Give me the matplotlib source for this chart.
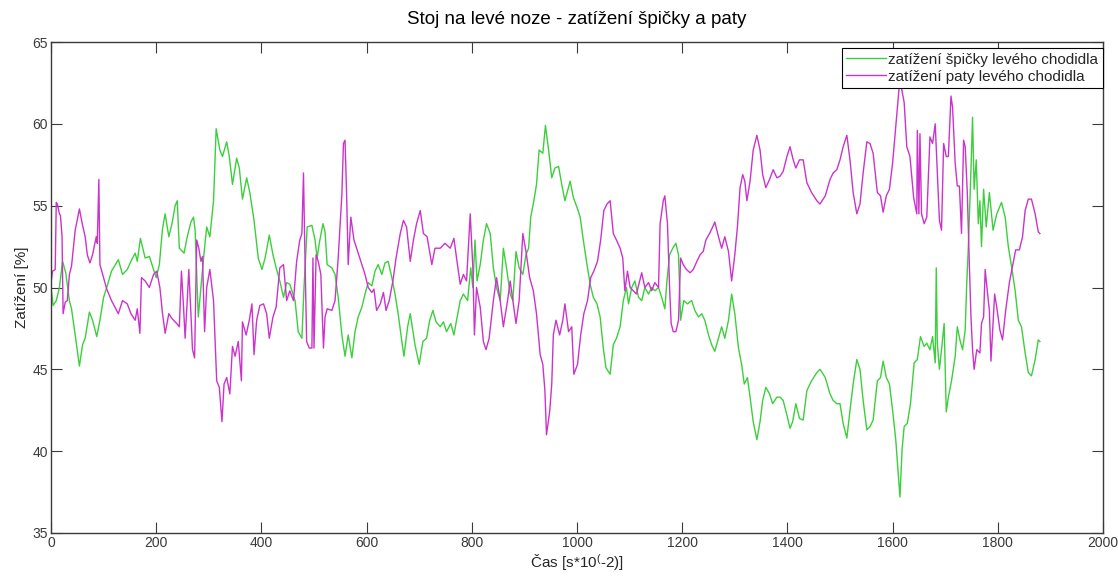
import matplotlib
matplotlib.use("Agg")
import matplotlib.pyplot as plt

plt.rcParams['font.family'] = ['Liberation Sans', 'DejaVu Sans']
plt.rcParams['mathtext.fontset'] = 'custom'
plt.rcParams['mathtext.rm'] = 'Liberation Sans'
plt.rcParams['mathtext.it'] = 'Liberation Sans:italic'

title = "Stoj na levé noze - zatížení špičky a paty"
xlabel = r"Čas [s*10$^{\mathrm{(}}$-2)]"
ylabel = "Zatížení [%]"
toe_label = "zatížení špičky levého chodidla"
heel_label = "zatížení paty levého chodidla"
x_ticks = [0, 200, 400, 600, 800, 1000, 1200, 1400, 1600, 1800, 2000]
y_ticks = [35, 40, 45, 50, 55, 60, 65]

toe_t = [0, 4, 10, 16, 22, 28, 35, 39, 46, 54, 60, 65, 73, 79, 87, 93, 100, 106, 115, 128,
         136, 145, 152, 160, 164, 170, 179, 187, 193, 200, 206, 212, 217, 224, 230, 236, 240, 244,
         253, 259, 266, 271, 274, 280, 286, 290, 296, 302, 309, 314, 321, 326, 334, 339,
         345, 353, 358, 364, 372, 378, 386, 394, 401, 407, 415, 422, 428, 435, 442, 448, 454, 464,
         470, 477, 481, 487, 496, 502, 506, 510, 517, 521, 525, 534, 540, 546, 553, 559, 565, 572,
         578, 584, 591, 597, 603, 610, 616, 622, 629, 635, 641, 648, 654, 660, 667, 671, 678, 683,
         692, 700,
         707, 714, 720, 726, 732, 740, 746, 752, 760, 766, 771, 778, 784, 792, 798, 802, 806, 810,
         816, 822, 828, 835, 841, 847, 854, 860, 866, 873, 878, 884, 890, 897, 903, 908, 912, 918,
         923, 928, 935, 940, 946, 952, 958, 965, 971, 977, 987, 993, 1000, 1006, 1012, 1018, 1025,
         1031, 1038, 1044, 1050, 1055,
         1063, 1069, 1075, 1082, 1088, 1094, 1098, 1104, 1110, 1117, 1123, 1129, 1136, 1142, 1148,
         1155, 1161, 1167, 1171, 1176, 1182, 1188, 1193, 1197, 1203, 1210, 1218, 1224, 1231, 1237,
         1243, 1250, 1256, 1262, 1269, 1275, 1281, 1288, 1294, 1300, 1307, 1313, 1318, 1324, 1329,
         1335, 1342, 1348, 1353, 1359, 1366, 1372, 1380, 1386, 1392, 1399, 1405, 1410, 1416, 1423,
         1430, 1437, 1446, 1456, 1462, 1472, 1481, 1487, 1494, 1500, 1506, 1513, 1519, 1525, 1532,
         1538, 1544, 1551, 1557, 1563, 1571, 1577, 1582, 1588, 1594, 1600, 1606, 1614, 1618, 1622,
         1628, 1634, 1641, 1647, 1653, 1660, 1665, 1671, 1676, 1681, 1683, 1685, 1689, 1693, 1698,
         1702, 1706, 1712, 1719, 1723, 1728, 1733, 1738, 1741, 1744, 1749, 1752, 1755, 1759, 1763,
         1766, 1769, 1773, 1778, 1784,
         1791, 1798, 1807, 1814, 1820, 1826, 1833, 1839, 1845, 1852, 1858, 1864, 1871, 1877, 1880]
toe_v = [50, 48.9, 49.2, 50, 51.6, 50.9, 49.2, 48.7, 47.1, 45.2, 46.5, 46.9, 48.5, 48, 47, 48, 49.4, 50, 51, 51.7,
         50.8, 51.1, 51.6, 52.1, 51.6, 53, 51.8, 51.9, 51.3, 50.6, 51.4, 53.6, 54.5, 53.1, 53.9, 55, 55.3, 52.4,
         52.1, 53.1, 54, 54.3, 53.5, 48.2, 50.4, 51.8, 53.7, 53.1, 55.3, 59.7, 58.4, 58, 58.9, 58,
         56.3, 57.9, 57.3, 55.4, 56.7, 55.8, 54.1, 51.8, 51.1, 51.8, 53.2, 52, 51.2, 50.4, 49.4, 50.3, 50.2, 49.2,
         47.3, 46.9, 50, 53.7, 53.8, 52.9, 51.8, 52.7, 53.9, 53.4, 51.4, 51.2, 50.8, 49.4, 47.1, 45.8, 47.1, 45.7,
         47.3, 48.2, 48.8, 49.6, 50.3, 50.1, 51, 51.4, 50.8, 51.5, 51.6, 50.6, 49.6, 48.4, 46.7, 45.8, 47.6, 48.4,
         46.5, 45.3,
         46.7, 46.9, 48, 48.6, 47.9, 47.6, 47.9, 47.3, 47.8, 47.1, 48, 49.2, 49.6, 49.2, 51.2, 50, 52.9, 50.4,
         51.4, 52.9, 53.9, 53.3, 51.2, 50, 49.2, 52.4, 51.2, 49.6, 49.2, 52.2, 51.2, 50.8, 52, 52.4, 54.3, 55.3,
         56.3, 58.4, 58.2, 59.9, 58.4, 56.7, 57.3, 57.4, 56.3, 55.3, 56.5, 55.5, 54.9, 54.3, 52.9, 51.6, 50.2,
         49.4, 49, 48.2, 46.3, 45.1,
         44.7, 46.5, 46.9, 47.6, 49.2, 50, 49, 50, 50.4, 49.4, 49.2, 50, 49.6, 50, 49.8,
         50, 49.4, 48.7, 50.4, 52, 52.4, 52.7, 52, 48, 49.2, 49, 49.2, 48.6, 48.2, 48.4,
         48, 47.1, 46.5, 46.1, 46.9, 47.6, 46.9, 48, 49.6, 48.4, 46.3, 45.3, 44.1, 44.5, 43.3,
         41.8, 40.7, 41.8, 43.1, 43.9, 43.5, 42.9, 43.3, 43.3, 43.1, 42.2, 41.4, 41.8, 42.9, 42,
         41.9, 43.7, 44.3, 44.8, 45, 44.5, 43.5, 43.1, 42.9, 42.9, 41.7, 40.8, 42.5, 44.1, 45.6,
         45, 43.1, 41.3, 41.5, 41.9, 44.3, 44.5, 45.5, 44.5, 44.1, 42.5, 40.7, 37.2, 40.1, 41.5,
         41.7, 42.9, 45.4, 45.6, 47, 46.4, 46.6, 46.2, 47, 45.4, 51.2, 46.6, 45, 46.2, 47.8,
         42.4, 43.3, 44.3, 45.8, 47.6, 46.8, 46.2, 47.4, 50.3, 52.5, 57.2, 60.4, 56, 57.8, 53.9,
         55.3, 52.5, 56, 53.7, 55.8,
         53.5, 54.5, 55.2, 54.3, 52.5, 51.3, 49.8, 48, 47.6, 46, 44.8, 44.6, 45.6, 46.8, 46.7]

heel_t = [0, 3, 8, 10, 12, 16, 18, 21, 23, 27, 31, 35, 39, 46, 54, 60, 65, 69, 74, 79, 86, 88, 91, 93,
          100, 106, 115, 128, 136, 145, 152, 160, 164, 169, 172, 179, 187, 195, 201, 207, 212, 217,
          224, 230, 239, 244, 248, 252, 255, 259, 262, 266, 269, 273, 277, 281, 285, 288, 292, 296,
          302, 309, 315, 320, 325, 329, 334,
          340, 345, 350, 356, 362, 364, 371, 377, 382, 386, 391, 397, 404, 410, 415, 422, 428, 435,
          442, 448, 454, 461, 467, 473, 477, 480, 482, 486, 491, 496, 498, 500, 504, 508, 513, 518,
          521, 525, 534, 540, 546, 553, 556, 559, 562, 565, 570, 576, 584, 591, 597, 603, 610, 614,
          619, 626, 632, 637, 643, 650, 656, 664, 670, 676, 683, 689, 695,
          702, 708, 715, 724, 730, 740, 749, 759, 766, 771, 778, 784, 790, 797, 802, 805, 809, 816,
          822, 827, 833, 841, 847, 854, 860, 868, 873, 878, 884, 890, 897, 903, 910, 917, 923, 930,
          935, 939, 942, 948, 952, 955, 960, 967, 973, 977, 984, 990, 994, 1001, 1007, 1013, 1020,
          1026, 1032, 1039, 1045, 1051, 1057,
          1063, 1069, 1075, 1082, 1087, 1091, 1096, 1101, 1107, 1113, 1123, 1129, 1136, 1142, 1148,
          1155, 1158, 1164, 1167, 1172, 1176, 1179, 1183, 1188, 1193, 1197, 1202, 1208, 1215, 1221,
          1228, 1234, 1240, 1245, 1252, 1258, 1262, 1269, 1275, 1281, 1288, 1294, 1300, 1305, 1310,
          1315, 1319, 1323, 1329, 1335, 1342, 1348, 1353, 1359, 1366, 1373, 1380, 1386, 1392, 1399,
          1405, 1411, 1416, 1423,
          1430, 1437, 1446, 1456, 1462, 1472, 1481, 1487, 1494, 1500, 1506, 1513, 1519, 1525, 1532,
          1538, 1544, 1551, 1557, 1563, 1571, 1577, 1582, 1588, 1594, 1600, 1606, 1614, 1618, 1622,
          1627, 1633, 1640, 1646, 1647, 1650, 1652, 1655, 1660, 1665, 1671, 1676, 1681, 1684, 1689,
          1693, 1697, 1702, 1706, 1711, 1714, 1719, 1723, 1727, 1731, 1735, 1738, 1742, 1746, 1749,
          1752, 1755, 1760, 1766, 1769, 1773, 1776, 1780, 1784, 1787,
          1794, 1798, 1804, 1809, 1815, 1822, 1828, 1834, 1841, 1847, 1852, 1858, 1864, 1871, 1877, 1880]
heel_v = [50.3, 51, 51.1, 55.2, 55.1, 54.5, 54.4, 53.1, 48.4, 49.1, 49.2, 50.8, 51.3, 53.5, 54.8, 53.8, 53.1, 52, 51.5, 52, 53.1, 52.7, 56.6, 51.4,
          50.6, 49.9, 49.2, 48.4, 49.2, 49, 48.4, 48, 48.7, 47.2, 50.6, 50.4, 50, 50.8, 51, 50, 48.4, 47.2,
          48.4, 48.1, 47.8, 47.6, 51, 48.8, 46.9, 49.2, 51.1, 48.4, 46.2, 45.7, 52.9, 52.4, 51.6, 51.9, 47.3, 50,
          51.1, 49.2, 44.3, 43.9, 41.8, 44.1, 44.5,
          43.5, 46.4, 45.8, 46.7, 44.3, 47.9, 47.1, 48, 49, 45.9, 48, 48.9, 49, 48.4, 46.9, 48.2, 48.8, 51.2,
          51.4, 49.2, 49.8, 49.2, 51.6, 52.9, 53.3, 57, 53.3, 46.7, 46.3, 46.3, 51.8, 46.3, 52, 51.6, 50.8, 46.3,
          48.2, 48.7, 48.6, 49.2, 51.8, 55.7, 58.8, 59, 55.7, 51.4, 54.3, 52.9, 52.1, 51.4, 50.8, 50, 49.7, 49.9,
          48.6, 49, 49.7, 48.6, 49.2, 50.4, 51.8, 53.3, 54.1, 53.7, 51.6, 52.9, 53.9,
          54.7, 53.3, 53.1, 51.4, 52.4, 52.4, 52.7, 52.4, 53, 51.8, 50.2, 50.8, 50.4, 54.5, 51.2, 47.1, 50, 48.8,
          46.7, 46.2, 46.9, 49.2, 50.6, 49.2, 47.6, 49.2, 50.4, 49.2, 47.8, 49.2, 53.3, 52.2, 50.6, 49.8, 48.4, 45.9,
          45.3, 43.7, 41, 42.4, 44.1, 47.1, 48, 47.1, 48, 49, 47.3, 47.6, 44.7, 45.3, 47.1, 48.4, 49.2,
          50.6, 51, 51.6, 52.9, 54.7, 55.1,
          55.3, 53.3, 52.9, 52.4, 51.8, 49.8, 51, 50, 49.8, 49.6, 50.9, 50, 50.3, 49.8, 50.3,
          50, 53.9, 55.3, 55.6, 53.9, 50, 47.8, 47.3, 47.3, 48, 51.8, 51.4, 51.1, 50.9, 51.1,
          51.6, 52, 52.2, 52.9, 53.3, 53.7, 54, 53.1, 52.4, 53.1, 52.2, 50.4, 52, 53.7, 56.1,
          56.9, 56.5, 55.3, 56.5, 58.4, 59.3, 58.4, 56.9, 56.1, 56.6, 57.2, 56.7, 56.8, 57.1, 58,
          58.6, 57.8, 57.3, 57.8,
          57.8, 56.4, 55.8, 55.3, 55.1, 55.6, 56.6, 57, 57.2, 57.8, 58.6, 59.3, 57.8, 55.8, 54.5,
          55.1, 57, 58.9, 58.8, 58.2, 55.8, 55.6, 54.6, 55.6, 56, 57.6, 59.8, 62.8, 62, 61.3,
          58.6, 58, 55.5, 54.5, 59.6, 54.5, 59.4, 54.5, 53.9, 54.3, 59.2, 58.8, 60, 57.8, 54.1,
          53.5, 58.8, 58, 58, 61.7, 61, 57.6, 56.2, 56.2, 53.3, 59, 58.6, 55.8, 51.3, 48.2,
          46.2, 45, 46.2, 46, 47.8, 48.2, 51.1, 49.8, 48.6, 45.5,
          49.6, 48.8, 47.4, 46.8, 48.6, 50.3, 51.3, 52.3, 52.3, 53.1, 54.7, 55.4, 55.4, 54.5, 53.4, 53.3]

green = '#3ccf3c'
magenta = '#cc33cc'
axis_col = '#3a3a3a'

fig = plt.figure(figsize=(11.18, 5.77), dpi=100)
fig.patch.set_facecolor('white')
ax = fig.add_axes([51 / 1118, 44 / 577, 1052 / 1118, 491 / 577])

ax.plot(toe_t, toe_v, color=green, lw=1.0, label=toe_label)
ax.plot(heel_t, heel_v, color=magenta, lw=1.0, label=heel_label)

ax.set_xlim(0, 2000)
ax.set_ylim(35, 65)
ax.set_xticks(x_ticks)
ax.set_yticks(y_ticks)
ax.tick_params(direction='in', length=8, width=0.8, top=True, right=True,
               labelsize=10, colors=axis_col, pad=2)
for sp in ax.spines.values():
    sp.set_color(axis_col)
    sp.set_linewidth(1.0)

ax.set_title(title, fontsize=13.5, color='black', pad=13)
ax.set_xlabel(xlabel, fontsize=11, color='#262626', labelpad=2)
ax.set_ylabel(ylabel, fontsize=11, color='#262626', labelpad=3)

leg = ax.legend(loc='upper right', bbox_to_anchor=(1.0, 1 - 6 / 491), borderaxespad=0,
                fontsize=11, handlelength=2.6, handletextpad=0.15, labelspacing=0.2,
                borderpad=0.3, fancybox=False, framealpha=1, edgecolor='black')
leg.get_frame().set_linewidth(0.8)
for txt in leg.get_texts():
    txt.set_color('#262626')

fig.savefig('out.png', dpi=100, facecolor='white')
